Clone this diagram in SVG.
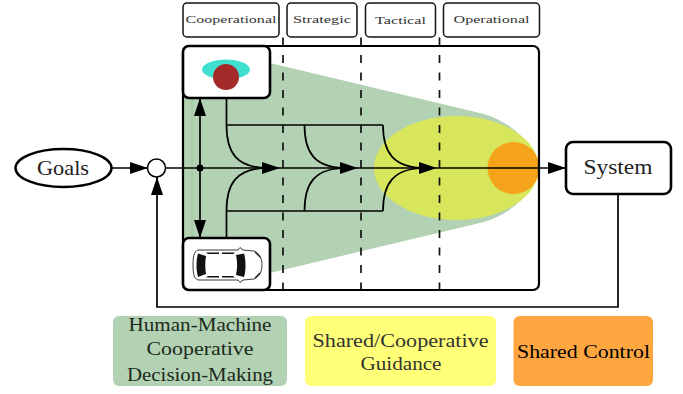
<svg xmlns="http://www.w3.org/2000/svg" width="683" height="394" viewBox="0 0 683 394">
<style>
.t{font-family:"Liberation Serif","Times New Roman",serif;fill:#222;text-anchor:middle}
.sm{font-size:10.500px;fill:#333}
.lg{font-size:18px;fill:#1c2a1c}
.w{stroke-width:1.700;fill:none;stroke:#000}
.hdr{fill:#fff;stroke:#111;stroke-width:1.500}
.nd{fill:#fff;stroke:#000;stroke-width:2.600}
.dash{stroke:#111;stroke-width:1.700;stroke-dasharray:8 9.500;fill:none}
</style>
<defs>
<marker id="ah" markerUnits="userSpaceOnUse" markerWidth="18" markerHeight="12" refX="18" refY="6" orient="auto-start-reverse"><path d="M0 0L18 6L0 12Z" fill="#000"/></marker>
</defs>
<rect width="683" height="394" fill="#fff"/>
<g id="region">
<path d="M183 98H270V63L484 114C516 124 534 146 539.500 168C534 190 516 212 484 222L270 273V238H183Z" fill="#b3d1b3"/>
<path d="M192 98V238" stroke="#9cc69c" stroke-width="1" fill="none"/>
<ellipse cx="456.500" cy="168" rx="82.500" ry="52" fill="#d8e65c"/>
<circle cx="513.500" cy="168" r="26" fill="#f5a31a"/>
</g>
<g id="frame"><rect x="183" y="46" width="356" height="244" rx="6" fill="none" stroke="#000" stroke-width="2.200"/></g>
<g id="connectors">
<path class="dash" d="M283 37.500V290M361 37.500V290M439.500 37.500V290"/>
<path class="w" d="M112 168H148" marker-end="url(#ah)"/>
<path class="w" d="M165.500 168H200"/>
<path class="w" d="M200 168H280" marker-end="url(#ah)"/>
<path class="w" d="M280 168H358" marker-end="url(#ah)"/>
<path class="w" d="M358 168H437" marker-end="url(#ah)"/>
<path class="w" d="M437 168H566" marker-end="url(#ah)"/>
<path class="w" d="M200 98V238" marker-start="url(#ah)" marker-end="url(#ah)"/>
<circle cx="200" cy="168" r="3.500" fill="#000"/>
<path class="w" d="M226.500 98V125H383M226.500 238V211H383"/>
<path class="w" d="M226.500 125C226.500 152 236 168 268 168M226.500 211C226.500 184 236 168 268 168"/>
<path class="w" d="M304.500 125C304.500 152 314 168 346 168M304.500 211C304.500 184 314 168 346 168"/>
<path class="w" d="M383 125C383 152 393 168 425 168M383 211C383 184 393 168 425 168"/>
<path class="w" d="M618 194V307H157V177" marker-end="url(#ah)"/>
</g>
<g id="cooperational"><rect class="hdr" x="183" y="3" width="96" height="34" rx="4"/><text class="t sm" x="231" y="23" textLength="91" lengthAdjust="spacingAndGlyphs">Cooperational</text></g>
<g id="strategic"><rect class="hdr" x="287" y="3" width="70" height="34" rx="4"/><text class="t sm" x="322" y="23" textLength="58" lengthAdjust="spacingAndGlyphs">Strategic</text></g>
<g id="tactical"><rect class="hdr" x="365.500" y="3" width="70" height="34" rx="4"/><text class="t sm" x="400.500" y="24" textLength="51" lengthAdjust="spacingAndGlyphs">Tactical</text></g>
<g id="operational"><rect class="hdr" x="443.500" y="3" width="96" height="34" rx="4"/><text class="t sm" x="491.500" y="23" textLength="76" lengthAdjust="spacingAndGlyphs">Operational</text></g>
<g id="goals"><ellipse cx="63.500" cy="168" rx="48" ry="19" fill="#fff" stroke="#000" stroke-width="2.500"/><text class="t" font-size="21" x="63" y="174.500" textLength="52" lengthAdjust="spacingAndGlyphs">Goals</text></g>
<g id="sum"><circle cx="156.500" cy="168" r="9" fill="#fff" stroke="#000" stroke-width="1.500"/></g>
<g id="human"><rect class="nd" x="183" y="46" width="87" height="52" rx="6"/><ellipse cx="226" cy="69.500" rx="24" ry="10" fill="#40e0d0"/><circle cx="226" cy="77" r="13" fill="#a52a2a"/></g>
<g id="vehicle"><rect class="nd" x="183" y="238" width="87" height="52" rx="6"/>
<path d="M199 250H238L240 247.500L243 250L254 251C259 253 262 258 262 265C262 272 259 277 254 279L243 280L240 282.500L238 280H199C195 280 193 276 193 265C193 254 195 250 199 250Z" fill="#fff" stroke="#222" stroke-width="0.900"/>
<path d="M198 253.500L206 256C205 262 205 268 206 274L198 277C196 270 196 261 198 253.500ZM236 255L244 253.500C246 260 246 271 244 277L236 275C237.500 268 237.500 262 236 255ZM206 252.500H219V254H208ZM222 252.500H235L233 254H222ZM206 277.500H219V276H208ZM222 277.500H235L233 276H222Z" fill="#111"/>
<path d="M255 252L260 257M255 278L260 273" stroke="#222" stroke-width="1.200" fill="none"/></g>
<g id="system"><rect class="nd" x="566" y="142" width="105" height="52" rx="7"/><text class="t" font-size="21" x="618" y="174" textLength="69" lengthAdjust="spacingAndGlyphs">System</text></g>
<g id="legend-hmc"><rect x="113" y="316" width="174" height="70" rx="6" fill="#b3d1b3"/>
<text class="t lg" x="200" y="331" textLength="143" lengthAdjust="spacingAndGlyphs">Human-Machine</text>
<text class="t lg" x="200" y="355" textLength="107" lengthAdjust="spacingAndGlyphs">Cooperative</text>
<text class="t lg" x="200" y="380.500" textLength="146" lengthAdjust="spacingAndGlyphs">Decision-Making</text></g>
<g id="legend-guidance"><rect x="305" y="316" width="191" height="70" rx="6" fill="#ffff78"/>
<text class="t lg" style="fill:#333" x="400.500" y="347" textLength="176" lengthAdjust="spacingAndGlyphs">Shared/Cooperative</text>
<text class="t lg" style="fill:#333" x="401" y="370" textLength="81" lengthAdjust="spacingAndGlyphs">Guidance</text></g>
<g id="legend-control"><rect x="513.500" y="316" width="139.500" height="70" rx="6" fill="#ffa640"/>
<text class="t lg" style="fill:#000" x="583.500" y="358" textLength="133" lengthAdjust="spacingAndGlyphs">Shared Control</text></g>
</svg>
